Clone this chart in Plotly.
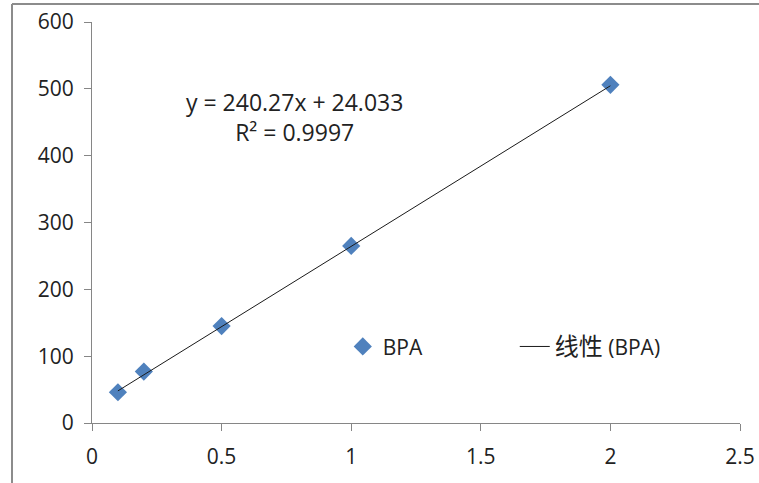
import plotly.graph_objects as go

conc = [0.1, 0.2, 0.5, 1.0, 2.0]
resp = [46, 77, 145, 265, 506]
slope = 240.27
intercept = 24.033
r2 = 0.9997
x_ticks = [0, 0.5, 1, 1.5, 2, 2.5]
y_ticks = [0, 100, 200, 300, 400, 500, 600]

fit_x = [min(conc), max(conc)]
fit_y = [slope * v + intercept for v in fit_x]

FONT = "Open Sans, Noto Sans CJK SC, sans-serif"

fig = go.Figure()
fig.add_trace(go.Scatter(
    x=conc, y=resp, mode="markers", name="BPA",
    marker=dict(symbol="diamond", size=14, color="#4F81BD",
                line=dict(width=0)),
))
fig.add_trace(go.Scatter(
    x=fit_x, y=fit_y, mode="lines",
    name="<span style='font-size:24px'>线性</span> (BPA)",
    line=dict(color="#1a1a1a", width=1),
))

fig.add_annotation(
    x=0.783, y=458, xref="x", yref="y",
    text=f"y = {slope}x + {intercept}<br>R² = {r2}",
    showarrow=False, font=dict(size=23, color="#222", family=FONT), align="center",
)

axis_common = dict(
    showgrid=False, zeroline=False, showline=True, linecolor="#868686",
    linewidth=1, ticks="outside", tickcolor="#868686", ticklen=7,
    tickfont=dict(size=21, color="#222", family=FONT),
)
fig.update_xaxes(range=[0, 2.5], tickvals=x_ticks, ticktext=[str(t) for t in x_ticks],
                 ticklabelstandoff=8, automargin=False, **axis_common)
fig.update_yaxes(range=[0, 600], tickvals=y_ticks, ticklabelstandoff=6,
                 automargin=False, **axis_common)

# outer chart frame (left and top edges)
PT, PB, PL, PR = 22, 423, 92, 740
fl = (12 - PL) / (PR - PL)
ft = 1 + (PT - 4) / (PB - PT)
fig.add_shape(type="line", xref="paper", yref="paper", x0=fl, x1=fl, y0=-0.2, y1=ft,
              line=dict(color="#8c8c8c", width=2))
fig.add_shape(type="line", xref="paper", yref="paper", x0=fl, x1=1.1, y0=ft, y1=ft,
              line=dict(color="#8c8c8c", width=2))

fig.update_layout(
    width=759, height=483,
    margin=dict(l=PL, r=759 - PR, t=PT, b=483 - PB),
    paper_bgcolor="white", plot_bgcolor="white",
    font=dict(family=FONT, color="#222"),
    showlegend=True,
    legend=dict(orientation="h", x=0.387, y=0.19, xanchor="left", yanchor="middle",
                font=dict(size=21, family=FONT),
                bgcolor="rgba(0,0,0,0)", entrywidth=127, entrywidthmode="pixels"),
)

fig.write_html("out.html", config={"displayModeBar": False},
               post_script="document.body.style.margin='0px';")
